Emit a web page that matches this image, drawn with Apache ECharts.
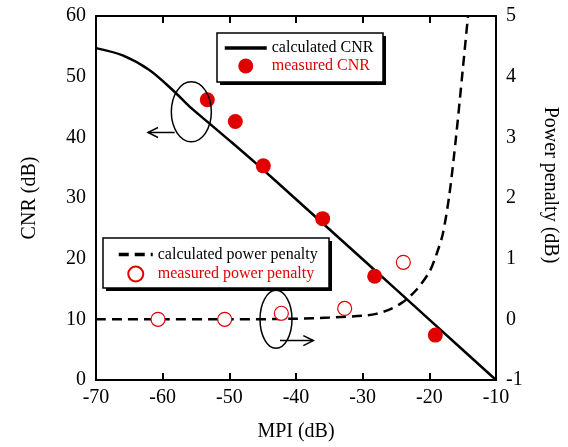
<!DOCTYPE html>
<html><head><meta charset="utf-8">
<script src="https://cdn.jsdelivr.net/npm/echarts@6/dist/echarts.min.js"></script>
<style>html,body{margin:0;padding:0;background:#fff}#c{width:568px;height:447px}</style>
</head><body><div id="c"></div>
<script>
// calculated CNR curve (MPI dB, CNR dB)
var cnrCalcX = [-70, -66, -62, -58.5, -56, -53, -50, -46, -40, -30, -20, -10];
var cnrCalcY = [54.7, 53.5, 51.1, 47.8, 45.1, 42.3, 39.5, 35.7, 29.8, 19.9, 9.95, 0];
// measured CNR
var cnrMeasX = [-53.3, -49.1, -44.9, -36.0, -28.2, -19.1];
var cnrMeasY = [46.2, 42.6, 35.3, 26.6, 17.1, 7.4];
// calculated power penalty (MPI dB, penalty dB)
var ppCalcX = [-70, -60, -50, -40, -35, -30, -28, -26, -24, -22, -20, -19, -18, -17, -16, -15, -14.2];
var ppCalcY = [0, 0, 0, 0.01, 0.03, 0.06, 0.09, 0.16, 0.28, 0.48, 0.78, 1.05, 1.4, 2.05, 3.0, 4.1, 5.0];
// measured power penalty
var ppMeasX = [-60.7, -50.7, -42.2, -32.7, -23.9];
var ppMeasY = [0.0, 0.0, 0.1, 0.18, 0.94];

var red = '#e00000';
var font = 'Liberation Serif';

function pairs(xs, ys){ return xs.map(function(x,i){ return [x, ys[i]]; }); }

var chart = echarts.init(document.getElementById('c'));
var axisLabel = {color:'#000', fontFamily:font, fontSize:20};
var noDot = {color:'rgba(0,0,0,0)', borderWidth:0, borderColor:'rgba(0,0,0,0)'};
var option = {
  animation:false,
  grid:{left:96, right:70, top:16, bottom:66},
  xAxis:[{
    type:'value', min:-70, max:-10, interval:10, position:'bottom',
    name:'MPI (dB)', nameLocation:'middle', nameGap:42,
    nameTextStyle:{color:'#000', fontFamily:font, fontSize:20},
    axisLine:{onZero:false, lineStyle:{color:'#000', width:2}},
    axisTick:{inside:true, length:7, lineStyle:{color:'#000', width:2}},
    axisLabel:Object.assign({margin:8}, axisLabel),
    splitLine:{show:false}
  },{
    type:'value', min:-70, max:-10, interval:10, position:'top',
    axisLine:{onZero:false, lineStyle:{color:'#000', width:2}},
    axisTick:{inside:true, length:7, lineStyle:{color:'#000', width:2}},
    axisLabel:{show:false}, splitLine:{show:false}
  }],
  yAxis:[{
    type:'value', min:0, max:60, interval:10, position:'left',
    name:'CNR (dB)', nameLocation:'middle', nameGap:56,
    nameTextStyle:{color:'#000', fontFamily:font, fontSize:20},
    axisLine:{show:true, onZero:false, lineStyle:{color:'#000', width:2}},
    axisTick:{show:false},
    axisLabel:Object.assign({margin:10}, axisLabel),
    splitLine:{show:false}
  },{
    type:'value', min:-1, max:5, interval:1, position:'right',
    name:'Power penalty (dB)', nameLocation:'middle', nameGap:44, nameRotate:-90,
    nameTextStyle:{color:'#000', fontFamily:font, fontSize:20, padding:[0,26,0,0]},
    axisLine:{show:true, onZero:false, lineStyle:{color:'#000', width:2}},
    axisTick:{show:false},
    axisLabel:Object.assign({margin:10}, axisLabel),
    splitLine:{show:false}
  }],
  legend:[{
    orient:'vertical', left:217, top:33, padding:[7,8,7,6], itemGap:2,
    itemWidth:42, itemHeight:15, z:6,
    textStyle:{fontFamily:font, fontSize:16, color:'#000'},
    data:[{name:'calculated CNR', itemStyle:noDot, lineStyle:{width:3.5}},
          {name:'measured CNR', textStyle:{color:red}}]
  },{
    orient:'vertical', left:103, top:238, padding:[8.5,10,8,14], itemGap:3,
    itemWidth:34, itemHeight:15, z:6,
    textStyle:{fontFamily:font, fontSize:16, color:'#000'},
    data:[{name:'calculated power penalty', itemStyle:noDot, lineStyle:{width:3.5}},
          {name:'measured power penalty', textStyle:{color:red}}]
  }],
  graphic:[
    {type:'rect', shape:{x:220, y:36, width:166, height:49}, style:{fill:'#000'}, z:5},
    {type:'rect', shape:{x:217, y:33, width:166, height:49}, style:{fill:'#fff', stroke:'#000', lineWidth:1.5}, z:5},
    {type:'rect', shape:{x:106, y:241, width:226, height:50}, style:{fill:'#000'}, z:5},
    {type:'rect', shape:{x:103, y:238, width:226, height:50}, style:{fill:'#fff', stroke:'#000', lineWidth:1.5}, z:5}
  ],
  series:[{
    name:'calculated CNR', type:'line', xAxisIndex:0, yAxisIndex:0,
    data:pairs(cnrCalcX, cnrCalcY), smooth:0.3, symbol:'none',
    lineStyle:{color:'#000', width:2.5}, itemStyle:{color:'#000'}, z:2
  },{
    name:'measured CNR', type:'scatter', xAxisIndex:0, yAxisIndex:0,
    data:pairs(cnrMeasX, cnrMeasY), symbol:'circle', symbolSize:15,
    itemStyle:{color:red, opacity:1}, z:3
  },{
    name:'calculated power penalty', type:'line', xAxisIndex:0, yAxisIndex:1,
    data:pairs(ppCalcX, ppCalcY), smooth:0.3, symbol:'none', clip:true,
    lineStyle:{color:'#000', width:2.5, type:[10,6]}, itemStyle:{color:'#000'}, z:2
  },{
    name:'measured power penalty', type:'scatter', xAxisIndex:0, yAxisIndex:1,
    data:pairs(ppMeasX, ppMeasY), symbol:'circle', symbolSize:14,
    itemStyle:{color:'#fff', borderColor:red, borderWidth:1.2, opacity:1}, z:3
  }]
};
chart.setOption(option);

// annotation ellipses + arrows placed in data coordinates
function px(x, y, yi){ return chart.convertToPixel({xAxisIndex:0, yAxisIndex:yi}, [x, y]); }
var e1 = px(-55.7, 44.2, 0), e2 = px(-43.0, 0.0, 1);
var a1s = px(-58.2, 40.8, 0), a1e = px(-62.2, 40.8, 0);
var a2s = px(-42.4, -0.35, 1), a2e = px(-37.4, -0.35, 1);
function arrow(s, e, dir){
  return [
    {type:'line', shape:{x1:s[0], y1:s[1], x2:e[0], y2:e[1]}, style:{stroke:'#000', lineWidth:1.5}, z:10},
    {type:'polyline', shape:{points:[[e[0]-dir*10, e[1]-5],[e[0], e[1]],[e[0]-dir*10, e[1]+5]]}, style:{stroke:'#000', lineWidth:1.5, fill:null}, z:10}
  ];
}
var g = option.graphic.slice();
g.push({type:'ellipse', shape:{cx:e1[0], cy:e1[1], rx:20, ry:30}, style:{stroke:'#000', fill:null, lineWidth:1.5}, z:10});
g.push({type:'ellipse', shape:{cx:e2[0], cy:e2[1], rx:16, ry:29}, style:{stroke:'#000', fill:null, lineWidth:1.5}, z:10});
chart.setOption({graphic:g.concat(arrow(a1s, a1e, -1), arrow(a2s, a2e, 1))}, {replaceMerge:['graphic']});
</script></body></html>
